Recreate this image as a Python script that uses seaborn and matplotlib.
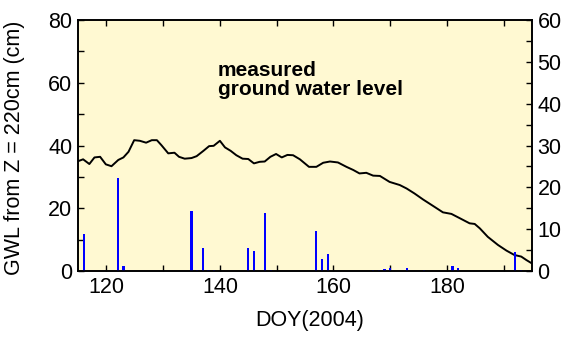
import matplotlib
matplotlib.use("Agg")
import matplotlib.pyplot as plt
import seaborn as sns
import pandas as pd
from matplotlib.ticker import MultipleLocator

# Ground water level (left axis, cm)
gwl_doy = [115.0, 115.9, 117.0, 117.9, 118.9, 119.9, 120.9, 122.1, 123.0, 123.9,
           124.9, 125.9, 127.0, 128.0, 128.9, 129.7, 130.9, 132.0, 132.8, 133.8,
           135.0, 135.9, 137.1, 138.1, 138.9, 140.0, 140.9, 141.9, 142.9, 144.0,
           145.0, 146.0, 147.0, 147.9, 148.9, 149.9, 150.9, 151.9, 152.9, 154.1,
           155.7, 157.0, 158.2, 159.4, 160.8, 162.3, 163.5, 164.6, 165.8, 167.0,
           168.2, 169.9, 171.7, 172.9, 174.3, 175.8, 177.6, 179.3, 180.8, 182.3,
           184.0, 184.9, 185.8, 187.2, 189.0, 190.5, 191.9, 193.1, 194.0, 195.0]
gwl_val = [35.0, 35.6, 34.1, 36.2, 36.4, 34.0, 33.4, 35.4, 36.2, 38.0,
           41.7, 41.5, 40.9, 41.7, 41.7, 40.1, 37.5, 37.7, 36.4, 35.8,
           36.0, 36.6, 38.3, 39.8, 39.9, 41.5, 39.4, 38.3, 36.9, 35.8,
           35.7, 34.3, 34.8, 34.9, 36.4, 37.3, 36.2, 37.0, 36.9, 35.6,
           33.2, 33.2, 34.5, 34.9, 34.6, 33.2, 32.2, 31.1, 31.3, 30.4,
           30.3, 28.4, 27.4, 26.3, 24.7, 22.8, 20.7, 18.7, 18.2, 16.8,
           15.2, 15.0, 13.6, 10.9, 8.3, 6.5, 5.1, 4.6, 3.5, 2.4]

# Bars (right axis)
bar_doy = [116, 122, 123, 135, 136, 137, 138, 139, 145, 146, 148, 149,
           157, 158, 159, 167, 168, 169, 170, 173, 176, 181, 182, 192, 193, 195]
bar_val = [8.8, 22.3, 1.3, 14.3, 0.3, 5.4, 0.3, 0.3, 5.4, 4.9, 13.9, 0.3,
           9.6, 2.8, 4.0, 0.3, 0.3, 0.5, 0.6, 0.6, 0.3, 1.3, 0.6, 4.5, 0.3, 0.3]

x_ticks = [120, 140, 160, 180]
left_ticks = [0, 20, 40, 60, 80]
right_ticks = [0, 10, 20, 30, 40, 50, 60]

sns.set_theme(style="white")
plt.rcParams['font.family'] = ['Liberation Sans', 'DejaVu Sans']

FS = 15.5

fig = plt.figure(figsize=(5.64, 3.38), dpi=100)
ax = fig.add_axes([0.1383, 0.1982, 0.805, 0.7426])
ax.set_facecolor('#FFF9D2')
ax2 = ax.twinx()

line_df = pd.DataFrame({'doy': gwl_doy, 'gwl': gwl_val})
sns.lineplot(data=line_df, x='doy', y='gwl', ax=ax, color='black', linewidth=1.4, zorder=3)

ax2.bar(bar_doy, bar_val, width=0.4, color='#0000FF', linewidth=0, zorder=2)

ax.set_xlim(115, 195)
ax.set_ylim(0, 80)
ax2.set_ylim(0, 60)
ax.set_xticks(x_ticks)
ax.xaxis.set_minor_locator(MultipleLocator(10))
ax.set_yticks(left_ticks)
ax.yaxis.set_minor_locator(MultipleLocator(10))
ax2.set_yticks(right_ticks)
ax2.yaxis.set_minor_locator(MultipleLocator(5))

for a in (ax, ax2):
    for s in a.spines.values():
        s.set_visible(True)
        s.set_color('black')
        s.set_linewidth(1.2)

ax.tick_params(axis='both', which='both', direction='in', top=True, bottom=True,
               left=True, right=False, labelsize=FS, colors='black', width=1, length=4)
ax.tick_params(axis='x', which='major', pad=4)
ax.tick_params(axis='y', which='major', pad=4)
ax2.tick_params(axis='y', which='both', direction='in', right=True, left=False,
                labelsize=FS, colors='black', width=1, length=4, pad=4)

ax.set_xlabel('DOY(2004)', fontsize=FS, color='black')
ax.set_ylabel('GWL from Z = 220cm (cm)', fontsize=FS, color='black')
ax.xaxis.set_label_coords(0.51, -0.155)
ax.yaxis.set_label_coords(-0.117, 0.49)
ax2.set_ylabel('')

ax.text(0.308, 0.835, 'measured\nground water level', transform=ax.transAxes,
        fontsize=15, fontweight='bold', color='black', va='top', ha='left',
        linespacing=1.0)

fig.savefig('out.png', dpi=100)
